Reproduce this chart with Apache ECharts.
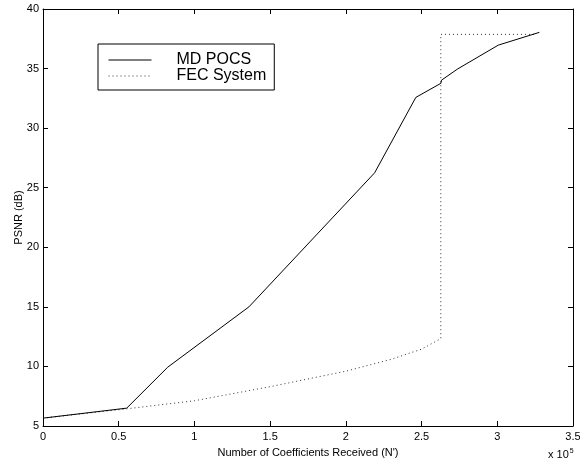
<!DOCTYPE html>
<html>
<head>
<meta charset="utf-8">
<script src="https://cdn.jsdelivr.net/npm/echarts@6/dist/echarts.min.js"></script>
<style>
  html, body { margin: 0; padding: 0; background: #fff; }
  #chart { width: 580px; height: 465px; }
</style>
</head>
<body>
<div id="chart"></div>
<script>
// x values are in units of 10^5 coefficients
var mdPocsX = [0, 0.553, 0.824, 1.36, 2.19, 2.462, 2.627, 2.632, 2.737, 3.007, 3.278]
var mdPocsY = [5.66, 6.5, 9.94, 15.0, 26.25, 32.58, 33.76, 34.03, 34.96, 36.97, 38.04]
var fecX = [0, 0.553, 1.0, 1.5, 2.0, 2.3, 2.5, 2.627, 2.627, 3.26]
var fecY = [5.66, 6.44, 7.12, 8.3, 9.6, 10.6, 11.45, 12.33, 37.87, 37.87]
var seriesNames = ['MD POCS', 'FEC System']

var FONT = "'Liberation Sans', Arial, Helvetica, sans-serif"

function pairs(xs, ys) {
  return xs.map(function (x, i) { return [x, ys[i]] })
}

var chart = echarts.init(document.getElementById('chart'), null, { renderer: 'canvas' })

var baseX = {
  type: 'value',
  min: 0,
  max: 3.5,
  interval: 0.5,
  splitLine: { show: false },
  axisLine: { show: true, onZero: false, lineStyle: { color: '#000', width: 1 } },
  axisTick: { show: true, inside: true, length: 5, lineStyle: { color: '#000' } }
}
var baseY = {
  type: 'value',
  min: 5,
  max: 40,
  interval: 5,
  splitLine: { show: false },
  axisLine: { show: true, onZero: false, lineStyle: { color: '#000', width: 1 } },
  axisTick: { show: true, inside: true, length: 5, lineStyle: { color: '#000' } }
}

var option = {
  animation: false,
  backgroundColor: '#fff',
  textStyle: { fontFamily: FONT },
  grid: { left: 43, right: 7, top: 9, bottom: 39, outerBoundsMode: 'none' },
  legend: {
    data: seriesNames,
    orient: 'vertical',
    left: 98,
    top: 44,
    padding: [8, 8, 6, 10],
    itemWidth: 43,
    itemHeight: 10,
    itemGap: 0,
    borderColor: '#000',
    borderWidth: 1,
    itemStyle: { opacity: 0 },
    lineStyle: { width: 1 },
    textStyle: { fontFamily: FONT, fontSize: 16, color: '#000', lineHeight: 14, padding: [0, 0, 0, 20] }
  },
  xAxis: [
    Object.assign({}, baseX, {
      position: 'bottom',
      name: "Number of Coefficients Received (N')",
      nameLocation: 'middle',
      nameGap: 21,
      nameMoveOverlap: false,
      nameTextStyle: { fontFamily: FONT, fontSize: 11, color: '#000' },
      axisLabel: { show: true, margin: 5, fontFamily: FONT, fontSize: 11, color: '#000' }
    }),
    Object.assign({}, baseX, { position: 'top', axisLabel: { show: false } })
  ],
  yAxis: [
    Object.assign({}, baseY, {
      position: 'left',
      name: 'PSNR (dB)',
      nameLocation: 'middle',
      nameGap: 19,
      nameMoveOverlap: false,
      nameTextStyle: { fontFamily: FONT, fontSize: 11, color: '#000' },
      axisLabel: { show: true, margin: 4, fontFamily: FONT, fontSize: 11, color: '#000' }
    }),
    Object.assign({}, baseY, { position: 'right', axisLabel: { show: false } })
  ],
  graphic: [
    {
      type: 'text',
      left: 548,
      top: 448,
      style: {
        text: '{a|x 10}{b|5}',
        rich: {
          a: { fontFamily: FONT, fontSize: 11, fill: '#000' },
          b: { fontFamily: FONT, fontSize: 7, fill: '#000', padding: [0, 0, 7, 1] }
        }
      }
    }
  ],
  series: [
    {
      name: 'FEC System',
      type: 'line',
      symbol: 'none',
      data: pairs(fecX, fecY),
      lineStyle: { color: '#333', width: 1, type: [1, 3] },
      itemStyle: { color: '#333' },
      z: 2
    },
    {
      name: 'MD POCS',
      type: 'line',
      symbol: 'none',
      data: pairs(mdPocsX, mdPocsY),
      lineStyle: { color: '#000', width: 1 },
      itemStyle: { color: '#000' },
      z: 3
    }
  ]
}

chart.setOption(option)
</script>
</body>
</html>
